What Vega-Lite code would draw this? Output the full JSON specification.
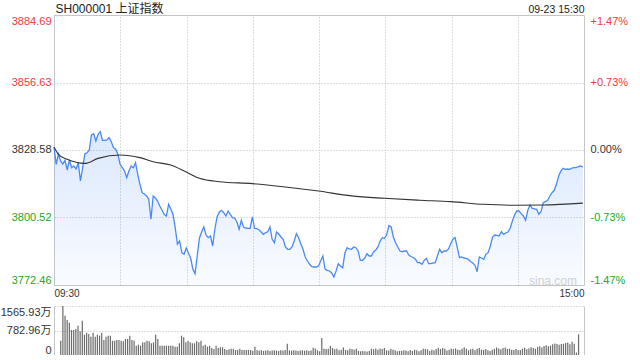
{
"$schema": "https://vega.github.io/schema/vega-lite/v6.json",
"background": "white",
"padding": {"left": 0, "top": 2, "right": 0, "bottom": 0},
"autosize": {"type": "pad"},
"config": {
  "font": "Liberation Sans, Noto Sans CJK SC, sans-serif",
  "view": {"stroke": null},
  "axis": {"labelFont": "Liberation Sans, Noto Sans CJK SC, sans-serif", "titleFont": "Liberation Sans, Noto Sans CJK SC, sans-serif"}
},
"datasets": {
"price": [
{"i":0,"p":3829.82},{"i":1,"p":3822.63},{"i":2,"p":3826.91},{"i":3,"p":3824.00},{"i":4,"p":3822.76},{"i":5,"p":3824.29},{"i":6,"p":3820.26},{"i":7,"p":3824.42},{"i":8,"p":3821.22},{"i":9,"p":3821.92},
{"i":10,"p":3820.68},{"i":11,"p":3823.30},{"i":12,"p":3815.69},{"i":13,"p":3821.22},{"i":14,"p":3826.91},{"i":15,"p":3827.45},{"i":16,"p":3828.58},{"i":17,"p":3834.81},{"i":18,"p":3835.35},{"i":19,"p":3832.32},
{"i":20,"p":3835.10},{"i":21,"p":3836.18},{"i":22,"p":3832.61},{"i":23,"p":3832.61},{"i":24,"p":3832.73},{"i":25,"p":3833.69},{"i":26,"p":3832.03},{"i":27,"p":3829.53},{"i":28,"p":3828.87},{"i":29,"p":3826.79},
{"i":30,"p":3822.63},{"i":31,"p":3821.22},{"i":32,"p":3819.85},{"i":33,"p":3817.06},{"i":34,"p":3819.85},{"i":35,"p":3821.92},{"i":36,"p":3821.22},{"i":37,"p":3823.30},{"i":38,"p":3818.48},{"i":39,"p":3814.32},
{"i":40,"p":3810.83},{"i":41,"p":3810.29},{"i":42,"p":3809.45},{"i":43,"p":3808.08},{"i":44,"p":3799.77},{"i":45,"p":3809.45},{"i":46,"p":3808.62},{"i":47,"p":3807.38},{"i":48,"p":3805.30},{"i":49,"p":3803.64},
{"i":50,"p":3801.85},{"i":51,"p":3801.14},{"i":52,"p":3806.01},{"i":53,"p":3804.05},{"i":54,"p":3801.85},{"i":55,"p":3796.28},{"i":56,"p":3789.38},{"i":57,"p":3790.75},{"i":58,"p":3785.89},{"i":59,"p":3785.22},
{"i":60,"p":3787.84},{"i":61,"p":3785.76},{"i":62,"p":3783.68},{"i":63,"p":3779.11},{"i":64,"p":3777.16},{"i":65,"p":3784.52},{"i":66,"p":3792.00},{"i":67,"p":3794.49},{"i":68,"p":3796.57},{"i":69,"p":3793.24},
{"i":70,"p":3792.12},{"i":71,"p":3792.83},{"i":72,"p":3788.67},{"i":73,"p":3795.74},{"i":74,"p":3800.73},{"i":75,"p":3802.80},{"i":76,"p":3803.51},{"i":77,"p":3802.51},{"i":78,"p":3801.14},{"i":79,"p":3803.22},
{"i":80,"p":3801.85},{"i":81,"p":3800.44},{"i":82,"p":3800.31},{"i":83,"p":3798.65},{"i":84,"p":3795.61},{"i":85,"p":3799.35},{"i":86,"p":3796.57},{"i":87,"p":3796.15},{"i":88,"p":3796.03},{"i":89,"p":3796.03},
{"i":90,"p":3800.73},{"i":91,"p":3796.03},{"i":92,"p":3795.90},{"i":93,"p":3795.45},{"i":94,"p":3794.49},{"i":95,"p":3793.53},{"i":96,"p":3794.20},{"i":97,"p":3794.62},{"i":98,"p":3796.57},{"i":99,"p":3791.46},
{"i":100,"p":3790.04},{"i":101,"p":3794.49},{"i":102,"p":3793.66},{"i":103,"p":3792.41},{"i":104,"p":3791.46},{"i":105,"p":3788.26},{"i":106,"p":3787.30},{"i":107,"p":3787.30},{"i":108,"p":3788.26},{"i":109,"p":3790.75},
{"i":110,"p":3793.78},{"i":111,"p":3792.12},{"i":112,"p":3789.50},{"i":113,"p":3787.30},{"i":114,"p":3784.10},{"i":115,"p":3782.44},{"i":116,"p":3781.07},{"i":117,"p":3780.07},{"i":118,"p":3779.94},{"i":119,"p":3779.94},
{"i":120,"p":3780.36},{"i":121,"p":3782.44},{"i":122,"p":3784.52},{"i":123,"p":3779.11},{"i":124,"p":3778.57},{"i":125,"p":3778.28},{"i":126,"p":3777.45},{"i":127,"p":3775.79},{"i":128,"p":3778.28},{"i":129,"p":3781.31},
{"i":130,"p":3780.36},{"i":131,"p":3779.65},{"i":132,"p":3785.76},{"i":133,"p":3787.97},{"i":134,"p":3787.43},{"i":135,"p":3787.30},{"i":136,"p":3788.26},{"i":137,"p":3787.97},{"i":138,"p":3786.59},{"i":139,"p":3782.73},
{"i":140,"p":3782.73},{"i":141,"p":3783.68},{"i":142,"p":3785.47},{"i":143,"p":3784.52},{"i":144,"p":3784.52},{"i":145,"p":3786.18},{"i":146,"p":3787.01},{"i":147,"p":3788.26},{"i":148,"p":3790.75},{"i":149,"p":3792.12},
{"i":150,"p":3791.87},{"i":151,"p":3793.53},{"i":152,"p":3797.19},{"i":153,"p":3796.57},{"i":154,"p":3792.41},{"i":155,"p":3790.04},{"i":156,"p":3788.26},{"i":157,"p":3786.59},{"i":158,"p":3786.30},{"i":159,"p":3786.59},
{"i":160,"p":3786.59},{"i":161,"p":3784.93},{"i":162,"p":3784.31},{"i":163,"p":3783.89},{"i":164,"p":3783.14},{"i":165,"p":3781.73},{"i":166,"p":3781.73},{"i":167,"p":3781.07},{"i":168,"p":3782.73},{"i":169,"p":3783.56},
{"i":170,"p":3781.31},{"i":171,"p":3781.31},{"i":172,"p":3781.61},{"i":173,"p":3781.73},{"i":174,"p":3784.52},{"i":175,"p":3787.30},{"i":176,"p":3785.89},{"i":177,"p":3786.59},{"i":178,"p":3786.59},{"i":179,"p":3787.43},
{"i":180,"p":3789.63},{"i":181,"p":3791.46},{"i":182,"p":3792.12},{"i":183,"p":3787.97},{"i":184,"p":3783.81},{"i":185,"p":3784.10},{"i":186,"p":3783.68},{"i":187,"p":3783.56},{"i":188,"p":3783.14},{"i":189,"p":3782.23},
{"i":190,"p":3781.61},{"i":191,"p":3780.77},{"i":192,"p":3777.99},{"i":193,"p":3784.10},{"i":194,"p":3783.68},{"i":195,"p":3783.14},{"i":196,"p":3785.22},{"i":197,"p":3785.89},{"i":198,"p":3788.67},{"i":199,"p":3792.41},
{"i":200,"p":3793.24},{"i":201,"p":3793.04},{"i":202,"p":3792.83},{"i":203,"p":3794.62},{"i":204,"p":3793.53},{"i":205,"p":3794.08},{"i":206,"p":3794.49},{"i":207,"p":3796.03},{"i":208,"p":3799.06},{"i":209,"p":3801.56},
{"i":210,"p":3803.22},{"i":211,"p":3803.22},{"i":212,"p":3802.10},{"i":213,"p":3801.14},{"i":214,"p":3799.35},{"i":215,"p":3803.51},{"i":216,"p":3805.71},{"i":217,"p":3804.34},{"i":218,"p":3804.13},{"i":219,"p":3803.93},
{"i":220,"p":3801.85},{"i":221,"p":3802.93},{"i":222,"p":3806.67},{"i":223,"p":3807.09},{"i":224,"p":3807.67},{"i":225,"p":3809.45},{"i":226,"p":3810.83},{"i":227,"p":3811.82},{"i":228,"p":3814.32},{"i":229,"p":3817.77},
{"i":230,"p":3819.85},{"i":231,"p":3820.97},{"i":232,"p":3820.55},{"i":233,"p":3820.68},{"i":234,"p":3820.55},{"i":235,"p":3821.09},{"i":236,"p":3821.22},{"i":237,"p":3821.22},{"i":238,"p":3821.72},{"i":239,"p":3821.92},
{"i":240,"p":3821.51}
],
"avg": [
{"i":0,"p":3829.8},{"i":2,"p":3826.8},{"i":6,"p":3824.7},{"i":14,"p":3823.0},{"i":20,"p":3825.1},{"i":30,"p":3826.5},{"i":39,"p":3825.4},{"i":45,"p":3823.7},{"i":53,"p":3822.3},{"i":60,"p":3819.4},
{"i":66,"p":3816.8},{"i":75,"p":3815.4},{"i":90,"p":3814.6},{"i":105,"p":3813.2},{"i":120,"p":3811.5},{"i":135,"p":3809.5},{"i":150,"p":3808.5},{"i":166,"p":3807.7},{"i":180,"p":3807.1},{"i":195,"p":3806.0},
{"i":210,"p":3805.6},{"i":222,"p":3805.7},{"i":240,"p":3806.5}
],
"vol": [
{"i":0,"v":457},{"i":1,"v":1565.93},{"i":2,"v":1256},{"i":3,"v":1119},{"i":4,"v":1033},{"i":5,"v":799},{"i":6,"v":799},{"i":7,"v":831},{"i":8,"v":937},{"i":9,"v":757},
{"i":10,"v":1097},{"i":11,"v":650},{"i":12,"v":714},{"i":13,"v":671},{"i":14,"v":586},{"i":15,"v":714},{"i":16,"v":586},{"i":17,"v":650},{"i":18,"v":618},{"i":19,"v":714},
{"i":20,"v":479},{"i":21,"v":586},{"i":22,"v":618},{"i":23,"v":618},{"i":24,"v":458},{"i":25,"v":458},{"i":26,"v":479},{"i":27,"v":479},{"i":28,"v":458},{"i":29,"v":437},
{"i":30,"v":511},{"i":31,"v":511},{"i":32,"v":618},{"i":33,"v":479},{"i":34,"v":458},{"i":35,"v":298},{"i":36,"v":330},{"i":37,"v":298},{"i":38,"v":405},{"i":39,"v":405},
{"i":40,"v":458},{"i":41,"v":437},{"i":42,"v":373},{"i":43,"v":405},{"i":44,"v":650},{"i":45,"v":511},{"i":46,"v":298},{"i":47,"v":298},{"i":48,"v":298},{"i":49,"v":298},
{"i":50,"v":298},{"i":51,"v":298},{"i":52,"v":298},{"i":53,"v":266},{"i":54,"v":266},{"i":55,"v":373},{"i":56,"v":618},{"i":57,"v":565},{"i":58,"v":405},{"i":59,"v":458},
{"i":60,"v":405},{"i":61,"v":373},{"i":62,"v":373},{"i":63,"v":437},{"i":64,"v":405},{"i":65,"v":458},{"i":66,"v":298},{"i":67,"v":330},{"i":68,"v":266},{"i":69,"v":298},
{"i":70,"v":224},{"i":71,"v":192},{"i":72,"v":298},{"i":73,"v":224},{"i":74,"v":245},{"i":75,"v":245},{"i":76,"v":192},{"i":77,"v":160},{"i":78,"v":181},{"i":79,"v":202},
{"i":80,"v":202},{"i":81,"v":160},{"i":82,"v":160},{"i":83,"v":202},{"i":84,"v":160},{"i":85,"v":160},{"i":86,"v":160},{"i":87,"v":160},{"i":88,"v":160},{"i":89,"v":139},
{"i":90,"v":266},{"i":91,"v":150},{"i":92,"v":140},{"i":93,"v":150},{"i":94,"v":130},{"i":95,"v":140},{"i":96,"v":150},{"i":97,"v":130},{"i":98,"v":140},{"i":99,"v":150},
{"i":100,"v":140},{"i":101,"v":130},{"i":102,"v":150},{"i":103,"v":140},{"i":104,"v":160},{"i":105,"v":360},{"i":106,"v":150},{"i":107,"v":140},{"i":108,"v":150},{"i":109,"v":140},
{"i":110,"v":130},{"i":111,"v":140},{"i":112,"v":150},{"i":113,"v":140},{"i":114,"v":150},{"i":115,"v":130},{"i":116,"v":140},{"i":117,"v":230},{"i":118,"v":210},{"i":119,"v":150},
{"i":120,"v":120},{"i":121,"v":545},{"i":122,"v":200},{"i":123,"v":190},{"i":124,"v":200},{"i":125,"v":290},{"i":126,"v":220},{"i":127,"v":180},{"i":128,"v":200},{"i":129,"v":150},
{"i":130,"v":170},{"i":131,"v":240},{"i":132,"v":160},{"i":133,"v":150},{"i":134,"v":200},{"i":135,"v":190},{"i":136,"v":170},{"i":137,"v":200},{"i":138,"v":130},{"i":139,"v":120},
{"i":140,"v":130},{"i":141,"v":120},{"i":142,"v":110},{"i":143,"v":130},{"i":144,"v":200},{"i":145,"v":180},{"i":146,"v":210},{"i":147,"v":170},{"i":148,"v":210},{"i":149,"v":190},
{"i":150,"v":220},{"i":151,"v":150},{"i":152,"v":140},{"i":153,"v":200},{"i":154,"v":170},{"i":155,"v":150},{"i":156,"v":120},{"i":157,"v":130},{"i":158,"v":130},{"i":159,"v":150},
{"i":160,"v":140},{"i":161,"v":120},{"i":162,"v":160},{"i":163,"v":130},{"i":164,"v":170},{"i":165,"v":150},{"i":166,"v":120},{"i":167,"v":150},{"i":168,"v":200},{"i":169,"v":190},
{"i":170,"v":180},{"i":171,"v":130},{"i":172,"v":170},{"i":173,"v":150},{"i":174,"v":190},{"i":175,"v":230},{"i":176,"v":190},{"i":177,"v":220},{"i":178,"v":200},{"i":179,"v":140},
{"i":180,"v":170},{"i":181,"v":200},{"i":182,"v":190},{"i":183,"v":210},{"i":184,"v":170},{"i":185,"v":160},{"i":186,"v":200},{"i":187,"v":250},{"i":188,"v":200},{"i":189,"v":150},
{"i":190,"v":180},{"i":191,"v":200},{"i":192,"v":150},{"i":193,"v":200},{"i":194,"v":220},{"i":195,"v":170},{"i":196,"v":160},{"i":197,"v":190},{"i":198,"v":150},{"i":199,"v":130},
{"i":200,"v":170},{"i":201,"v":200},{"i":202,"v":240},{"i":203,"v":210},{"i":204,"v":180},{"i":205,"v":220},{"i":206,"v":240},{"i":207,"v":190},{"i":208,"v":200},{"i":209,"v":170},
{"i":210,"v":160},{"i":211,"v":190},{"i":212,"v":150},{"i":213,"v":160},{"i":214,"v":200},{"i":215,"v":230},{"i":216,"v":180},{"i":217,"v":210},{"i":218,"v":250},{"i":219,"v":220},
{"i":220,"v":200},{"i":221,"v":260},{"i":222,"v":280},{"i":223,"v":240},{"i":224,"v":290},{"i":225,"v":310},{"i":226,"v":280},{"i":227,"v":300},{"i":228,"v":340},{"i":229,"v":370},
{"i":230,"v":350},{"i":231,"v":330},{"i":232,"v":350},{"i":233,"v":360},{"i":234,"v":380},{"i":235,"v":400},{"i":236,"v":340},{"i":237,"v":420},{"i":238,"v":360},{"i":239,"v":80},
{"i":240,"v":660}
]
},
"bounds": "flush",
"spacing": 21,
"vconcat": [
{
  "width": 530,
  "height": 270,
  "view": {"stroke": "#c8c8c8"},
  "layer": [
    {
      "data": {"name": "price"},
      "mark": {"type": "area", "color": {"gradient": "linear", "x1": 0, "y1": 0, "x2": 0, "y2": 1, "stops": [{"offset": 0, "color": "rgba(74,138,244,0.2)"}, {"offset": 1, "color": "rgba(74,138,244,0.03)"}]}},
      "encoding": {
        "x": {"field": "i", "type": "quantitative", "scale": {"domain": [0, 240.5], "nice": false, "zero": false},
          "axis": {"orient": "bottom", "values": [0, 240.5], "labelExpr": "datum.value < 1 ? '09:30' : '15:00'", "labelFlush": true, "labelPadding": 3, "ticks": false, "domain": false, "grid": false, "labelFontSize": 10, "labelColor": "#333333",
            "title": "sina.com", "titleX": 498.5, "titleY": -5, "titleAlign": "center", "titleBaseline": "middle", "titleFontSize": 12, "titleFontWeight": "normal", "titleColor": "#d4d4d4"}},
        "y": {"field": "p", "type": "quantitative", "scale": {"domain": [3772.46, 3884.69], "nice": false, "zero": false},
          "axis": {"orient": "left", "values": [3772.46, 3800.52, 3828.58, 3856.63, 3884.69], "format": ".2f", "labelFlush": true, "labelPadding": 3, "ticks": false, "domain": false, "grid": true, "gridColor": "#bdbdbd", "gridDash": [1, 2], "labelFontSize": 11,
            "labelColor": {"condition": [{"test": "datum.value > 3829", "value": "#f03b3b"}, {"test": "datum.value < 3828", "value": "#25a625"}], "value": "#333333"},
            "title": "SH000001 上证指数", "titleAngle": 0, "titleX": 1, "titleY": -2.5, "titleAlign": "left", "titleBaseline": "alphabetic", "titleFontSize": 12, "titleFontWeight": "normal", "titleColor": "#222222"}},
        "y2": {"datum": 3772.46}
      }
    },
    {
      "data": {"name": "price"},
      "mark": {"type": "line", "color": "#4a8af4", "strokeWidth": 1.3},
      "encoding": {
        "x": {"field": "i", "type": "quantitative",
          "axis": {"orient": "top", "values": [30.0625, 60.125, 90.1875, 120.25, 150.3125, 180.375, 210.4375], "grid": true, "gridColor": "#bdbdbd", "gridDash": [1, 2], "labels": false, "ticks": false, "domain": false,
            "title": "09-23 15:30", "titleAnchor": "end", "titleAlign": "right", "titleBaseline": "alphabetic", "titleX": 530, "titleY": -3, "titleFontSize": 10.5, "titleFontWeight": "normal", "titleColor": "#222222"}},
        "y": {"field": "p", "type": "quantitative",
          "axis": {"orient": "right", "values": [3772.46, 3800.52, 3828.58, 3856.63, 3884.69], "labelExpr": "abs(datum.value - 3828.58) < 1 ? '0.00%' : ((datum.value > 3828.58 ? '+' : '-') + format(abs(datum.value - 3828.58) / 3828.58 * 100, '.2f') + '%')", "labelFlush": true, "labelPadding": 6, "ticks": false, "domain": false, "grid": false, "labelFontSize": 11,
            "labelColor": {"condition": [{"test": "datum.value > 3829", "value": "#f03b3b"}, {"test": "datum.value < 3828", "value": "#25a625"}], "value": "#333333"},
            "title": null}}
      }
    },
    {
      "data": {"name": "avg"},
      "mark": {"type": "line", "color": "#333333", "strokeWidth": 1.1, "interpolate": "monotone"},
      "encoding": {
        "x": {"field": "i", "type": "quantitative", "axis": null},
        "y": {"field": "p", "type": "quantitative", "axis": null}
      }
    }
  ],
  "resolve": {"axis": {"x": "independent", "y": "independent"}}
},
{
  "width": 530,
  "height": 49,
  "layer": [
    {
      "data": {"name": "vol"},
      "mark": {"type": "bar", "color": "#6b6b6b", "size": 1.2},
      "encoding": {
        "x": {"field": "i", "type": "quantitative", "scale": {"domain": [-0.8, 240.2], "nice": false, "zero": false}, "axis": null},
        "y": {"field": "v", "type": "quantitative", "scale": {"domain": [0, 1565.93], "nice": false},
          "axis": {"orient": "left", "values": [0, 782.96, 1565.93], "labelExpr": "datum.value < 1 ? '0' : format(datum.value, '.2f') + '万'", "labelFlush": true, "labelPadding": 3, "ticks": false, "domain": true, "domainColor": "#c8c8c8", "grid": true, "gridColor": "#bdbdbd", "gridDash": [1, 2], "labelFontSize": 11, "labelColor": "#333333", "title": null}}
      }
    },
    {
      "data": {"name": "vol"},
      "mark": {"type": "bar", "opacity": 0, "size": 1},
      "encoding": {
        "x": {"field": "i", "type": "quantitative", "axis": null},
        "y": {"field": "v", "type": "quantitative",
          "axis": {"orient": "right", "labels": false, "ticks": false, "grid": false, "domain": true, "domainColor": "#c8c8c8", "title": null}}
      }
    }
  ],
  "resolve": {"axis": {"y": "independent"}}
}
]
}
